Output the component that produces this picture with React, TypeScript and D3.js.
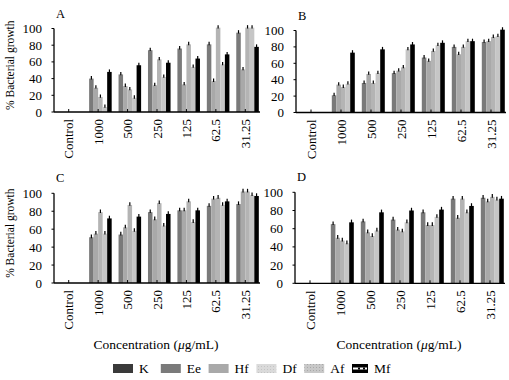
import React from "react";
import * as d3 from "d3";

const categories = ["Control", "1000", "500", "250", "125", "62.5", "31.25"];
const seriesNames = ["K", "Ee", "Hf", "Df", "Af", "Mf"];
const yTicks = [0, 20, 40, 60, 80, 100];

const A_K = [0, 0, 0, 0, 0, 0, 0];
const A_Ee = [0, 40, 45, 74, 76, 81, 95];
const A_Hf = [0, 29, 31, 32, 33, 37, 51];
const A_Df = [0, 18, 27, 63, 81, 101, 101];
const A_Af = [0, 6, 17, 42, 54, 57, 101];
const A_Mf = [0, 48, 56, 59, 64, 69, 78];

const B_K = [0, 0, 0, 0, 0, 0, 0];
const B_Ee = [0, 21, 36, 48, 67, 80, 86];
const B_Hf = [0, 34, 47, 51, 63, 71, 87];
const B_Df = [0, 31, 36, 55, 75, 80, 92];
const B_Af = [0, 35, 48, 77, 82, 87, 93];
const B_Mf = [0, 73, 77, 83, 85, 87, 101];

const C_K = [0, 0, 0, 0, 0, 0, 0];
const C_Ee = [0, 51, 54, 79, 81, 86, 88];
const C_Hf = [0, 55, 62, 71, 81, 94, 102];
const C_Df = [0, 79, 87, 89, 91, 95, 102];
const C_Af = [0, 55, 58, 64, 68, 87, 98];
const C_Mf = [0, 72, 74, 77, 81, 91, 97];

const D_K = [0, 0, 0, 0, 0, 0, 0];
const D_Ee = [0, 65, 68, 70, 78, 93, 94];
const D_Hf = [0, 50, 56, 59, 64, 72, 90];
const D_Df = [0, 47, 52, 57, 64, 93, 95];
const D_Af = [0, 44, 58, 67, 73, 78, 92];
const D_Mf = [0, 67, 78, 80, 81, 85, 93];

const ERR = 3;

const colors: Record<string, string> = {
  K: "#3a3a3a",
  Ee: "#7a7a7a",
  Hf: "#a9a9a9",
  Df: "#b4b4b4",
  Af: "#c6c6c6",
  Mf: "#000000",
};

const FONT = "'Liberation Serif', 'Times New Roman', serif";

type Panel = {
  label: string;
  series: number[][];
  x0: number;
  x1: number;
  y0: number;
  y100: number;
  yTitle: boolean;
  xTitle: boolean;
};

const panels: Panel[] = [
  { label: "A", series: [A_K, A_Ee, A_Hf, A_Df, A_Af, A_Mf], x0: 54, x1: 260, y0: 112, y100: 28.5, yTitle: true, xTitle: false },
  { label: "B", series: [B_K, B_Ee, B_Hf, B_Df, B_Af, B_Mf], x0: 296, x1: 506, y0: 112.5, y100: 30.5, yTitle: false, xTitle: false },
  { label: "C", series: [C_K, C_Ee, C_Hf, C_Df, C_Af, C_Mf], x0: 54, x1: 260, y0: 283, y100: 193.3, yTitle: true, xTitle: true },
  { label: "D", series: [D_K, D_Ee, D_Hf, D_Df, D_Af, D_Mf], x0: 295, x1: 505, y0: 283.3, y100: 192.3, yTitle: false, xTitle: true },
];

function PanelChart({ p }: { p: Panel }) {
  const x = d3.scaleBand<string>().domain(categories).range([p.x0, p.x1]).paddingInner(0.08).paddingOuter(0.04);
  const xs = d3.scaleBand<string>().domain(seriesNames).range([0, x.bandwidth()]).padding(0);
  const y = d3.scaleLinear().domain([0, 100]).range([p.y0, p.y100]);
  const step = x.step();
  return (
    <g>
      <text x={p.x0 + 2} y={p.y100 - 11} fontSize={12.5} fontFamily={FONT}>{p.label}</text>
      {/* bars */}
      {p.series.map((vals, si) =>
        vals.map((v, ci) => {
          if (v <= 0) return null;
          const bx = (x(categories[ci]) as number) + (xs(seriesNames[si]) as number);
          const bw = xs.bandwidth();
          return (
            <g key={`${si}-${ci}`}>
              <rect x={bx} y={y(v)} width={bw} height={y(0) - y(v)} fill={colors[seriesNames[si]]} />
              <line x1={bx + bw / 2} x2={bx + bw / 2} y1={y(v - 1)} y2={y(v + ERR)} stroke="#000" strokeWidth={1.2} />
            </g>
          );
        })
      )}
      {/* axes */}
      <line x1={p.x0} x2={p.x0} y1={y(0)} y2={y(100)} stroke="#000" strokeWidth={1.3} />
      <line x1={p.x0} x2={p.x0 + step * categories.length} y1={y(0)} y2={y(0)} stroke="#000" strokeWidth={1.3} />
      {yTicks.map((t) => (
        <g key={t}>
          <line x1={p.x0 - 2.5} x2={p.x0} y1={y(t)} y2={y(t)} stroke="#000" strokeWidth={1} />
          <text x={p.x0 - 12} y={y(t)} dy="0.35em" textAnchor="end" fontSize={13} fontFamily={FONT}>{t}</text>
        </g>
      ))}
      {categories.map((c) => {
        const cx = (x(c) as number) + x.bandwidth() / 2;
        return (
          <g key={c}>
            <line x1={cx} x2={cx} y1={y(0)} y2={y(0) - 3} stroke="#000" strokeWidth={1} />
            <text transform={`translate(${cx},${y(0) + 7}) rotate(-90)`} dy="0.35em" textAnchor="end" fontSize={13} fontFamily={FONT}>{c}</text>
          </g>
        );
      })}
      {p.yTitle && (
        <text transform={`translate(${10},${(y(0) + y(100)) / 2 - 5}) rotate(-90)`} dy="0.35em" textAnchor="middle" fontSize={11.5} fontFamily={FONT}>% Bacterial growth</text>
      )}
      {p.xTitle && (
        <text x={(p.x0 + p.x1) / 2 - 1} y={349} textAnchor="middle" fontSize={13.5} fontFamily={FONT}>
          Concentration (<tspan fontStyle="italic">μ</tspan>g/mL)
        </text>
      )}
    </g>
  );
}

export default function App() {
  const legendX = d3.scalePoint<string>().domain(seriesNames).range([113, 352]);
  return (
    <svg width={509} height={380} style={{ position: "absolute", left: 0, top: 0, background: "#fff" }}>
      <defs>
        <pattern id="dfPat" width="3" height="3" patternUnits="userSpaceOnUse">
          <rect width="3" height="3" fill="#dadada" />
          <rect width="1" height="1" fill="#c4c4c4" />
        </pattern>
        <pattern id="afPat" width="3" height="3" patternUnits="userSpaceOnUse">
          <rect width="3" height="3" fill="#c8c8c8" />
          <rect x="1" y="1" width="1" height="1" fill="#a8a8a8" />
        </pattern>
      </defs>
      {panels.map((p) => (
        <PanelChart key={p.label} p={p} />
      ))}
      {seriesNames.map((s) => {
        const lx = legendX(s) as number;
        const w = s === "Mf" ? 16 : 20;
        const fill = s === "Df" ? "url(#dfPat)" : s === "Af" ? "url(#afPat)" : colors[s];
        return (
          <g key={s}>
            <rect x={lx} y={364} width={w} height={9} fill={fill} />
            {s === "Mf" && (
              <g>
                <rect x={lx + 1} y={367.5} width={w - 2} height={2} fill="#fff" />
                <rect x={lx + 6} y={367.5} width={2} height={2} fill="#000" />
                <rect x={lx + 11} y={367.5} width={2} height={2} fill="#000" />
              </g>
            )}
            <text x={lx + w + 6} y={373} fontSize={13.5} fontFamily={FONT}>{s}</text>
          </g>
        );
      })}
    </svg>
  );
}
